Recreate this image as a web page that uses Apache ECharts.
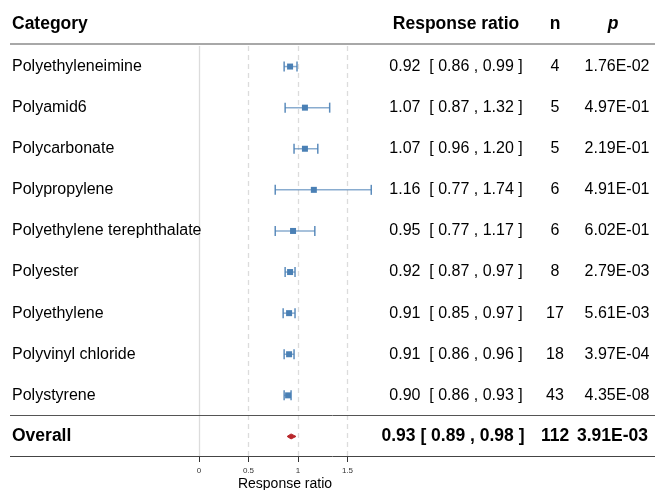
<!DOCTYPE html>
<html><head><meta charset="utf-8">
<script src="https://cdn.jsdelivr.net/npm/echarts@6/dist/echarts.min.js"></script>
<style>html,body{margin:0;padding:0;background:#fff}#c{width:656px;height:490px}</style>
</head><body><div id="c"></div>
<script>
const categories = ["Polyethyleneimine","Polyamid6","Polycarbonate","Polypropylene","Polyethylene terephthalate","Polyester","Polyethylene","Polyvinyl chloride","Polystyrene","Overall"];
const means = [0.92,1.07,1.07,1.16,0.95,0.92,0.91,0.91,0.90,0.93];
const lower = [0.86,0.87,0.96,0.77,0.77,0.87,0.85,0.86,0.86,0.89];
const upper = [0.99,1.32,1.20,1.74,1.17,0.97,0.97,0.96,0.93,0.98];
const nVals = [4,5,5,6,6,8,17,18,43,112];
const pVals = ["1.76E-02","4.97E-01","2.19E-01","4.91E-01","6.02E-01","2.79E-03","5.61E-03","3.97E-04","4.35E-08","3.91E-03"];
const xTicks = [0,0.5,1,1.5];

const FONT = '"Liberation Sans", Arial, sans-serif';
const chart = echarts.init(document.getElementById('c'));
const lastIdx = categories.length - 1;
const fmt = v => v.toFixed(2);

const forestData = categories.map((c,i)=>[means[i], i, lower[i], upper[i]]);
const textData = categories.map((c,i)=>[0, i]);

chart.setOption({
  animation:false,
  grid:{left:199, right:259, top:46, bottom:33},
  xAxis:{type:'value', min:0, max:2,
    axisLine:{show:false},
    splitLine:{show:false},
    axisTick:{show:true, customValues:xTicks, length:5, lineStyle:{color:'#333'}},
    axisLabel:{customValues:xTicks, fontSize:8, color:'#333', margin:10, fontFamily:FONT}
  },
  yAxis:{type:'category', inverse:true, data:categories, z:20,
    axisLine:{show:false}, axisTick:{show:false}, splitLine:{show:false},
    axisLabel:{align:'left', margin:187, fontSize:16, color:'#000', fontFamily:FONT,
      formatter:(v)=> v==='Overall' ? '{b|'+v+'}' : v,
      rich:{b:{fontWeight:'bold', fontSize:17.5, fontFamily:FONT, color:'#000'}}}
  },
  graphic:[
    {type:'line', shape:{x1:10,y1:44,x2:655,y2:44}, style:{stroke:'#a8a8a8', lineWidth:2}, z:10},
    {type:'line', shape:{x1:10,y1:415.5,x2:655,y2:415.5}, style:{stroke:'#555', lineWidth:1}, z:10},
    {type:'line', shape:{x1:10,y1:456.5,x2:655,y2:456.5}, style:{stroke:'#444', lineWidth:1}, z:10},
    {type:'text', x:12, y:24, style:{text:'Category', font:'bold 17.5px '+FONT, fill:'#000', textVerticalAlign:'middle'}},
    {type:'text', x:456, y:24, style:{text:'Response ratio', font:'bold 17.5px '+FONT, fill:'#000', textAlign:'center', textVerticalAlign:'middle'}},
    {type:'text', x:555, y:24, style:{text:'n', font:'bold 17.5px '+FONT, fill:'#000', textAlign:'center', textVerticalAlign:'middle'}},
    {type:'text', x:613, y:24, style:{text:'p', font:'italic bold 17.5px '+FONT, fill:'#000', textAlign:'center', textVerticalAlign:'middle'}},
    {type:'text', x:285, y:484, style:{text:'Response ratio', font:'14px '+FONT, fill:'#000', textAlign:'center', textVerticalAlign:'middle'}}
  ],
  series:[
    {type:'custom', coordinateSystem:'cartesian2d', clip:false, data:forestData,
      encode:{x:0,y:1},
      renderItem:(params, api)=>{
        const i = api.value(1);
        const c = api.coord([api.value(0), i]);
        const l = api.coord([api.value(2), i]);
        const u = api.coord([api.value(3), i]);
        if (i === lastIdx) {
          return {type:'polygon', shape:{points:[[l[0],c[1]],[c[0],c[1]-2.5],[u[0],c[1]],[c[0],c[1]+2.5]]},
            style:{fill:'#b8272b', stroke:'#b8272b', lineWidth:1}};
        }
        const col = '#4a80b5';
        return {type:'group', children:[
          {type:'line', shape:{x1:l[0],y1:c[1],x2:u[0],y2:c[1]}, style:{stroke:'rgba(74,128,181,0.65)', lineWidth:1.5}},
          {type:'line', shape:{x1:l[0],y1:c[1]-5,x2:l[0],y2:c[1]+5}, style:{stroke:'rgba(74,128,181,0.9)', lineWidth:1.5}},
          {type:'line', shape:{x1:u[0],y1:c[1]-5,x2:u[0],y2:c[1]+5}, style:{stroke:'rgba(74,128,181,0.9)', lineWidth:1.5}},
          {type:'rect', shape:{x:c[0]-3,y:c[1]-3,width:6,height:6}, style:{fill:col}}
        ]};
      },
      markLine:{silent:true, symbol:'none', label:{show:false},
        data:xTicks.map(v=>({xAxis:v, lineStyle:{color:'#dcdcdc', width:1.3, type: v===0?'solid':[5,4]}}))
      },
      z:5
    },
    {type:'custom', coordinateSystem:'cartesian2d', clip:false, data:textData,
      renderItem:(params, api)=>{
        const i = api.value(1);
        const y = api.coord([0, i])[1];
        const bold = i === lastIdx;
        const f = bold ? 'bold 17.5px '+FONT : '16px '+FONT;
        const rr = bold ? fmt(means[i])+' [ '+fmt(lower[i])+' , '+fmt(upper[i])+' ]'
                        : fmt(means[i])+'  [ '+fmt(lower[i])+' , '+fmt(upper[i])+' ]';
        return {type:'group', children:[
          {type:'text', x:bold?453:456, y:y, style:{text:rr, font:f, fill:'#000', textAlign:'center', textVerticalAlign:'middle'}},
          {type:'text', x:555, y:y, style:{text:String(nVals[i]), font:f, fill:'#000', textAlign:'center', textVerticalAlign:'middle'}},
          {type:'text', x:bold?612.5:617, y:y, style:{text:pVals[i], font:f, fill:'#000', textAlign:'center', textVerticalAlign:'middle'}}
        ]};
      }
    }
  ]
});
</script></body></html>
